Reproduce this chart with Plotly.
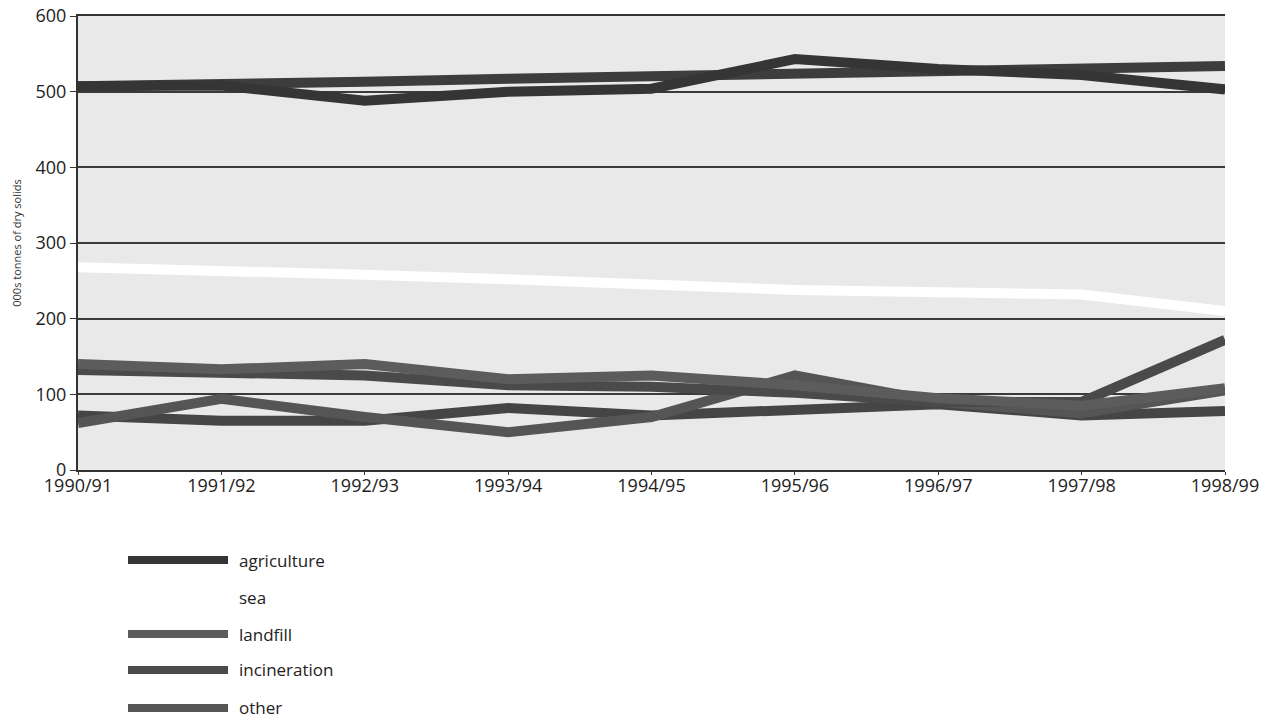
import plotly.graph_objects as go

years = ["1990/91", "1991/92", "1992/93", "1993/94", "1994/95",
         "1995/96", "1996/97", "1997/98", "1998/99"]

agriculture = [507, 508, 488, 500, 504, 543, 530, 522, 503]
sea = [268, 264, 258, 252, 244, 238, 235, 232, 210]
landfill = [140, 133, 140, 120, 125, 112, 95, 85, 108]
incineration = [132, 128, 125, 112, 110, 102, 90, 90, 172]
other = [62, 94, 70, 50, 70, 125, 90, 75, 105]
unlabelled_upper = [507, 509, 513, 517, 520, 524, 528, 530, 534]
unlabelled_lower = [72, 65, 65, 82, 72, 80, 87, 72, 78]

y_ticks = [0, 100, 200, 300, 400, 500, 600]
legend_names = ["agriculture", "sea", "landfill", "incineration", "other"]

colors = {
    "agriculture": "#353535",
    "sea": "#ffffff",
    "landfill": "#5c5c5c",
    "incineration": "#4a4a4a",
    "other": "#555555",
}

fig = go.Figure()
LW = 10
fig.add_trace(go.Scatter(x=years, y=sea, mode="lines", name="sea",
                         line=dict(color=colors["sea"], width=LW)))
fig.add_trace(go.Scatter(x=years, y=unlabelled_lower, mode="lines", name="(unlabelled)",
                         line=dict(color="#454545", width=LW)))
fig.add_trace(go.Scatter(x=years, y=other, mode="lines", name="other",
                         line=dict(color=colors["other"], width=LW)))
fig.add_trace(go.Scatter(x=years, y=incineration, mode="lines", name="incineration",
                         line=dict(color=colors["incineration"], width=LW)))
fig.add_trace(go.Scatter(x=years, y=landfill, mode="lines", name="landfill",
                         line=dict(color=colors["landfill"], width=LW)))
fig.add_trace(go.Scatter(x=years, y=unlabelled_upper, mode="lines", name="(unlabelled)",
                         line=dict(color="#3d3d3d", width=LW)))
fig.add_trace(go.Scatter(x=years, y=agriculture, mode="lines", name="agriculture",
                         line=dict(color=colors["agriculture"], width=LW)))

# target plot area on screen (pixels); body margin removed by post_script
L, R, T, B = 78, 1225, 16, 470
W, H = 1268, 723
pw, ph = R - L, B - T

def px(xp):
    return (xp - L) / pw

def py(yp):
    return (B - yp) / ph

shapes = []
annotations = []
legend_y = [560, 597, 634, 670, 708]
for name, ly in zip(legend_names, legend_y):
    shapes.append(dict(type="line", xref="paper", yref="paper",
                       x0=px(128), x1=px(228), y0=py(ly), y1=py(ly),
                       line=dict(color=colors[name], width=8)))
    annotations.append(dict(text=name, xref="paper", yref="paper",
                            x=px(237), y=py(ly), xanchor="left", yanchor="middle",
                            showarrow=False,
                            font=dict(size=17, color="#222222", family="Open Sans, sans-serif")))

fig.update_layout(
    width=W, height=H,
    margin=dict(l=L, r=W - R, t=T, b=H - B, autoexpand=False),
    paper_bgcolor="white",
    plot_bgcolor="#e9e9e9",
    font=dict(family="Open Sans, sans-serif", color="#222222"),
    showlegend=False,
    shapes=shapes,
    annotations=annotations,
    xaxis=dict(
        type="category", range=[0, 8], showgrid=False, automargin=False,
        showline=True, mirror=True, linecolor="#333333", linewidth=2,
        ticks="outside", ticklen=3, tickcolor="#333333",
        ticklabelstandoff=-5,
        tickfont=dict(size=18, color="#222222"),
        zeroline=False,
    ),
    yaxis=dict(
        range=[0, 600], tickvals=y_ticks, automargin=False,
        ticklabeloverflow="allow",
        showgrid=True, gridcolor="#3a3a3a", gridwidth=1.5,
        showline=True, linecolor="#333333", linewidth=2,
        ticks="outside", ticklen=6, tickcolor="#333333",
        tickfont=dict(size=18, color="#222222"),
        title=dict(text="000s tonnes of dry solids", font=dict(size=11, color="#333333"),
                   standoff=12),
        zeroline=False,
    ),
)

fig.write_html("out.html",
               config={"displayModeBar": False},
               post_script="document.body.style.margin='0px';document.body.style.overflow='hidden';")
